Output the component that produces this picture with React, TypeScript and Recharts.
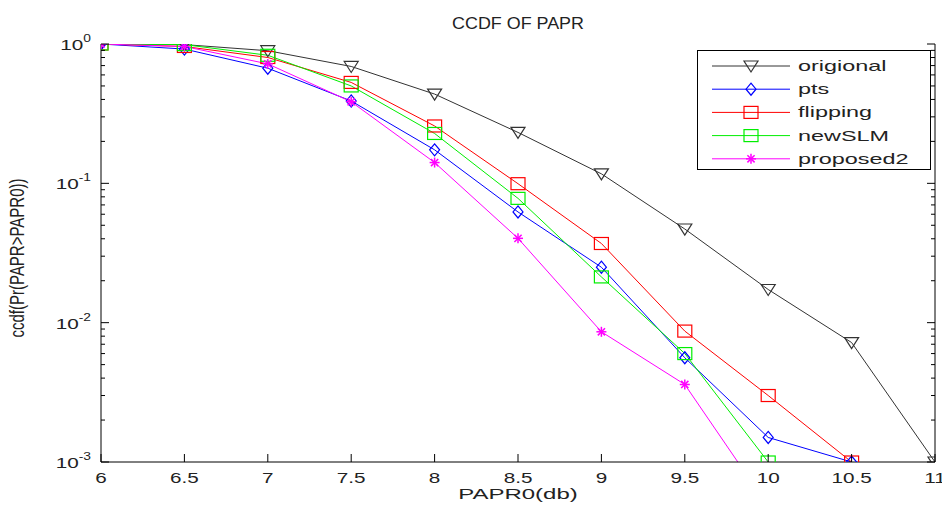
import React from 'react';
import { LineChart, Line, XAxis, YAxis, Label } from 'recharts';

const FONT = '"Liberation Sans", Arial, Helvetica, sans-serif';
const SX = 1.38;

const papr0 = [6, 6.5, 7, 7.5, 8, 8.5, 9, 9.5, 10, 10.5, 11];
const original = [1.0, 0.99, 0.895, 0.69, 0.437, 0.232, 0.117, 0.047, 0.0173, 0.0072, 0.001];
const pts = [1.0, 0.92, 0.67, 0.39, 0.174, 0.0623, 0.025, 0.0056, 0.0015, 0.001, null];
const flipping = [1.0, 0.96, 0.8, 0.53, 0.258, 0.0994, 0.037, 0.0087, 0.003, 0.001, null];
const newSLM = [1.0, 0.99, 0.83, 0.5, 0.228, 0.078, 0.0213, 0.006, 0.001, null, null];
const proposed2 = [1.0, 0.96, 0.72, 0.385, 0.141, 0.0403, 0.0086, 0.0036, 0.00048, null, null];

const xTicks = [6, 6.5, 7, 7.5, 8, 8.5, 9, 9.5, 10, 10.5, 11];
const yTicks = [
  0.001, 0.002, 0.003, 0.004, 0.005, 0.006, 0.007, 0.008, 0.009,
  0.01, 0.02, 0.03, 0.04, 0.05, 0.06, 0.07, 0.08, 0.09,
  0.1, 0.2, 0.3, 0.4, 0.5, 0.6, 0.7, 0.8, 0.9,
  1,
];

const title = 'CCDF OF PAPR';
const xLabel = 'PAPR0(db)';
const yLabel = 'ccdf(Pr(PAPR>PAPR0))';

const series = [
  { key: 'original', name: 'origional', color: '#333333', shape: 'tri' },
  { key: 'pts', name: 'pts', color: '#0000ff', shape: 'diamond' },
  { key: 'flipping', name: 'flipping', color: '#ff0000', shape: 'square' },
  { key: 'newSLM', name: 'newSLM', color: '#00ee00', shape: 'square' },
  { key: 'proposed2', name: 'proposed2', color: '#ff00ff', shape: 'star' },
];

const data = papr0.map((x, i) => ({
  x,
  original: original[i],
  pts: pts[i],
  flipping: flipping[i],
  newSLM: newSLM[i],
  proposed2: proposed2[i],
}));

function Marker({ shape, cx, cy, color }: { shape: string; cx: number; cy: number; color: string }) {
  if (shape === 'tri') {
    return (
      <polygon
        points={`${cx - 7},${cy - 5} ${cx + 7},${cy - 5} ${cx},${cy + 6}`}
        fill="none"
        stroke={color}
        strokeWidth={1.2}
      />
    );
  }
  if (shape === 'diamond') {
    return (
      <polygon
        points={`${cx},${cy - 6} ${cx + 5},${cy} ${cx},${cy + 6} ${cx - 5},${cy}`}
        fill="none"
        stroke={color}
        strokeWidth={1.2}
      />
    );
  }
  if (shape === 'square') {
    return <rect x={cx - 7} y={cy - 6} width={14} height={12} fill="none" stroke={color} strokeWidth={1.2} />;
  }
  const r = 5;
  const d = 3.6;
  return (
    <g stroke={color} strokeWidth={1.5}>
      <line x1={cx - r} y1={cy} x2={cx + r} y2={cy} />
      <line x1={cx} y1={cy - r} x2={cx} y2={cy + r} />
      <line x1={cx - d} y1={cy - d} x2={cx + d} y2={cy + d} />
      <line x1={cx - d} y1={cy + d} x2={cx + d} y2={cy - d} />
    </g>
  );
}

function makeDot(shape: string, color: string) {
  return (props: any) => {
    const { cx, cy, index, value } = props;
    if (cx == null || cy == null || value == null || Number.isNaN(cy)) return <g key={`d-${index}`} />;
    return (
      <g key={`d-${index}`}>
        <Marker shape={shape} cx={cx} cy={cy} color={color} />
      </g>
    );
  };
}

function StretchText({ x, y, children, anchor = 'middle', size = 15, rotate = 0, sx = SX }: any) {
  return (
    <text
      transform={`translate(${x},${y}) scale(${sx},1)${rotate ? ` rotate(${rotate})` : ''}`}
      textAnchor={anchor}
      fontFamily={FONT}
      fontSize={size}
      fill="#222"
    >
      {children}
    </text>
  );
}

function isDecade(v: number) {
  const l = Math.log10(v);
  return Math.abs(l - Math.round(l)) < 1e-9;
}

const BottomTick = (props: any) => {
  const { x, y, payload } = props;
  return (
    <g>
      <line x1={x} y1={y} x2={x} y2={y - 8} stroke="#000" />
      <StretchText x={x} y={y + 21}>{String(payload.value)}</StretchText>
    </g>
  );
};

const TopTick = (props: any) => {
  const { x, y } = props;
  return <line x1={x} y1={y} x2={x} y2={y + 8} stroke="#000" />;
};

const LeftTick = (props: any) => {
  const { x, y, payload } = props;
  const v = payload.value;
  const major = isDecade(v);
  const exp = Math.round(Math.log10(v));
  return (
    <g>
      <line x1={x} y1={y} x2={x + (major ? 8 : 4)} y2={y} stroke="#000" />
      {major && (
        <text
          transform={`translate(${x - 10},${y + 6}) scale(${SX},1)`}
          textAnchor="end"
          fontFamily={FONT}
          fontSize={15}
          fill="#222"
        >
          10
          <tspan dy={-8} fontSize={10}>{String(exp)}</tspan>
        </text>
      )}
    </g>
  );
};

const RightTick = (props: any) => {
  const { x, y, payload } = props;
  const major = isDecade(payload.value);
  return <line x1={x} y1={y} x2={x - (major ? 8 : 4)} y2={y} stroke="#000" />;
};

function LegendBox() {
  const w = 234;
  const h = 120;
  return (
    <svg
      width={w}
      height={h}
      style={{ position: 'absolute', left: 697, top: 50, display: 'block' }}
    >
      <rect x={0.5} y={0.5} width={w - 1} height={h - 1} fill="#fff" stroke="#000" />
      {series.map((s, i) => {
        const cy = 16 + i * 23.2;
        return (
          <g key={s.key}>
            <line x1={15} y1={cy} x2={93} y2={cy} stroke={s.color} strokeWidth={1} />
            <Marker shape={s.shape} cx={54} cy={cy} color={s.color} />
            <text
              transform={`translate(101,${cy + 5}) scale(1.56,1)`}
              fontFamily={FONT}
              fontSize={15}
              fill="#222"
            >
              {s.name}
            </text>
          </g>
        );
      })}
    </svg>
  );
}

export default function App() {
  return (
    <div style={{ position: 'absolute', left: 0, top: 0, width: 942, height: 506, background: '#fff' }}>
      <LineChart width={942} height={506} data={data} margin={{ top: 44, right: 0, bottom: 0, left: 0 }}>
        <XAxis
          xAxisId="b"
          dataKey="x"
          type="number"
          domain={[6, 11]}
          ticks={xTicks}
          interval={0}
          height={44}
          tickSize={0}
          tickMargin={0}
          tick={<BottomTick />}
          axisLine={{ stroke: '#000' }}
          allowDataOverflow
        >
          <Label
            content={(p: any) => {
              const vb = p.viewBox;
              return (
                <StretchText x={vb.x + vb.width / 2} y={vb.y + 37} sx={1.6}>
                  {xLabel}
                </StretchText>
              );
            }}
          />
        </XAxis>
        <XAxis
          xAxisId="t"
          orientation="top"
          dataKey="x"
          type="number"
          domain={[6, 11]}
          ticks={xTicks}
          interval={0}
          height={0}
          tickSize={0}
          tickMargin={0}
          tick={<TopTick />}
          axisLine={{ stroke: '#000' }}
          allowDataOverflow
        />
        <YAxis
          yAxisId="l"
          scale="log"
          type="number"
          domain={[0.001, 1]}
          ticks={yTicks}
          interval={0}
          width={101}
          tickSize={0}
          tickMargin={0}
          tick={<LeftTick />}
          axisLine={{ stroke: '#000' }}
          allowDataOverflow
        >
          <Label
            content={(p: any) => {
              const vb = p.viewBox;
              return (
                <StretchText x={24} y={vb.y + vb.height / 2 + 5} rotate={-90}>
                  {yLabel}
                </StretchText>
              );
            }}
          />
        </YAxis>
        <YAxis
          yAxisId="r"
          orientation="right"
          scale="log"
          type="number"
          domain={[0.001, 1]}
          ticks={yTicks}
          interval={0}
          width={7}
          tickSize={0}
          tickMargin={0}
          tick={<RightTick />}
          axisLine={{ stroke: '#000' }}
          allowDataOverflow
        />
        {series.map((s) => (
          <Line
            key={s.key}
            xAxisId="b"
            yAxisId="l"
            type="linear"
            dataKey={s.key}
            name={s.name}
            stroke={s.color}
            strokeWidth={1}
            dot={makeDot(s.shape, s.color)}
            activeDot={false}
            isAnimationActive={false}
            connectNulls={false}
          />
        ))}
      </LineChart>
      <LegendBox />
      <svg
        width={942}
        height={40}
        style={{ position: 'absolute', left: 0, top: 0, pointerEvents: 'none' }}
      >
        <StretchText x={518} y={29} size={16} sx={1.12}>{title}</StretchText>
      </svg>
    </div>
  );
}
